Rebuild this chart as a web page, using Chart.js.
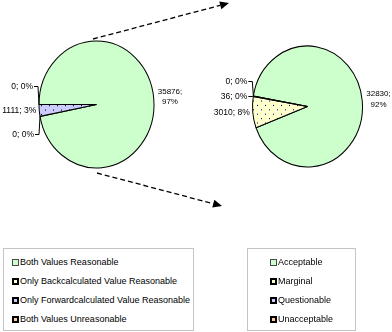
<!DOCTYPE html>
<html>
<head>
<meta charset="utf-8">
<script src="https://cdn.jsdelivr.net/npm/chart.js@4/dist/chart.umd.min.js"></script>
<style>
  body { margin: 0; background: #fff; }
  #wrap { position: relative; width: 392px; height: 332px; overflow: hidden; font-family: Arial, "Liberation Sans", sans-serif; }
  canvas { position: absolute; left: 0; top: 0; }
  .legend { position: absolute; border: 1px solid #c4c4c4; box-sizing: border-box; background: #fff; }
  .legend .row { position: absolute; left: 0; height: 19px; line-height: 19px; font-size: 9px; color: #000; white-space: nowrap; }
  .legend .mark { display: inline-block; box-sizing: border-box; width: 7px; height: 7px; vertical-align: -1px; margin-right: 1px; }
</style>
</head>
<body>
<div id="wrap">
  <canvas id="pieLeft" width="392" height="332"></canvas>
  <canvas id="pieRight" width="392" height="332"></canvas>
  <div class="legend" id="legendLeft" style="left:3px;top:248px;width:191px;height:83px"></div>
  <div class="legend" id="legendRight" style="left:247px;top:248px;width:109px;height:83px"></div>
</div>
<script>
const leftCategories = ['Both Values Reasonable', 'Only Backcalculated Value Reasonable', 'Only Forwardcalculated Value Reasonable', 'Both Values Unreasonable'];
const leftValues = [35876, 0, 1111, 0];

const rightCategories = ['Acceptable', 'Marginal', 'Questionable', 'Unacceptable'];
const rightValues = [32830, 3010, 36, 0];

const sliceColors = ['#CCFFCC', '#FFFFCC', '#CCCCFF', '#FFCC99'];
const dotColors = [null, '#000080', '#000000', '#000000'];

const FONT = 'Arial, "Liberation Sans", sans-serif';

function dotPattern(bg, dot) {
    if (!dot) return bg;
    const c = document.createElement('canvas');
    c.width = 8;
    c.height = 8;
    const g = c.getContext('2d');
    g.fillStyle = bg;
    g.fillRect(0, 0, 8, 8);
    g.fillStyle = dot;
    g.fillRect(1, 1, 1, 1);
    g.fillRect(5, 5, 1, 1);
    return g.createPattern(c, 'repeat');
}

// squash the pie vertically into an ellipse around its centre
const ellipsePlugin = {
    id: 'ellipse',
    beforeDatasetsDraw(chart, args, opts) {
        const arc = chart.getDatasetMeta(0).data[0];
        const ctx = chart.ctx;
        ctx.save();
        ctx.translate(arc.x, arc.y);
        ctx.scale(1, opts.scaleY);
        ctx.translate(-arc.x, -arc.y);
    },
    afterDatasetsDraw(chart) {
        chart.ctx.restore();
    },
};

// "value; pct%" labels, with leader lines for the tiny slices
const sliceLabelPlugin = {
    id: 'sliceLabels',
    afterDraw(chart, args, opts) {
        const ctx = chart.ctx;
        const sy = chart.options.plugins.ellipse.scaleY;
        const values = chart.data.datasets[0].data;
        const total = values.reduce((a, b) => a + b, 0);
        const items = chart.getDatasetMeta(0).data.map((arc, i) => {
            const p = arc.getProps(['x', 'y', 'startAngle', 'endAngle', 'outerRadius'], true);
            const mid = (p.startAngle + p.endAngle) / 2;
            const pct = Math.round(values[i] / total * 100);
            const ax = p.x + p.outerRadius * Math.cos(mid);
            const ay = p.y + p.outerRadius * sy * Math.sin(mid);
            return { value: values[i], pct, ax, ay, ty: ay, left: Math.cos(mid) < 0, leader: pct === 0 };
        });

        // spread the left-hand labels away from the biggest one
        const side = items.filter((it) => it.left).sort((a, b) => a.ay - b.ay);
        if (side.length) {
            let k = 0;
            side.forEach((it, j) => { if (it.value > side[k].value) k = j; });
            for (let j = k - 1; j >= 0; j--) side[j].ty = Math.min(side[j].ay, side[j + 1].ty - opts.gap);
            for (let j = k + 1; j < side.length; j++) side[j].ty = Math.max(side[j].ay, side[j - 1].ty + opts.gap);
        }

        ctx.save();
        ctx.fillStyle = '#000';
        ctx.strokeStyle = '#000';
        ctx.lineWidth = 1;
        ctx.textBaseline = 'middle';
        items.forEach((it) => {
            if (it.left) {
                ctx.font = `${opts.size}px ${FONT}`;
                ctx.textAlign = 'right';
                const right = it.leader ? it.ax - 6 : it.ax - 3;
                ctx.fillText(`${it.value}; ${it.pct}%`, right, it.ty);
                if (it.leader) {
                    ctx.beginPath();
                    ctx.moveTo(right + 1, Math.round(it.ty) + 0.5);
                    ctx.lineTo(it.ax - 1, Math.round(it.ty) + 0.5);
                    ctx.lineTo(it.ax, it.ay);
                    ctx.stroke();
                }
            } else {
                ctx.font = `${opts.size - 0.5}px ${FONT}`;
                const l1 = `${it.value};`;
                const l2 = `${it.pct}%`;
                const w = ctx.measureText(l1).width;
                const x0 = it.ax + 4;
                ctx.textAlign = 'center';
                ctx.fillText(l1, x0 + w / 2, it.ty - 7);
                ctx.fillText(l2, x0 + w / 2, it.ty + 3.5);
            }
        });
        ctx.restore();
    },
};

// dashed arrows fanning out from the left pie toward the right one
const arrowPlugin = {
    id: 'arrows',
    afterDraw(chart, args, opts) {
        const ctx = chart.ctx;
        ctx.save();
        ctx.strokeStyle = '#000';
        ctx.fillStyle = '#000';
        ctx.lineWidth = 1.3;
        opts.lines.forEach(([x1, y1, x2, y2]) => {
            const a = Math.atan2(y2 - y1, x2 - x1);
            const len = 9, half = 4;
            const bx = x2 - len * Math.cos(a), by = y2 - len * Math.sin(a);
            ctx.setLineDash([5, 3]);
            ctx.beginPath();
            ctx.moveTo(x1, y1);
            ctx.lineTo(bx, by);
            ctx.stroke();
            ctx.setLineDash([]);
            ctx.beginPath();
            ctx.moveTo(x2, y2);
            ctx.lineTo(bx + half * Math.sin(a), by - half * Math.cos(a));
            ctx.lineTo(bx - half * Math.sin(a), by + half * Math.cos(a));
            ctx.closePath();
            ctx.fill();
        });
        ctx.restore();
    },
};

function makePie(canvasId, categories, values, cfg) {
    return new Chart(document.getElementById(canvasId), {
        type: 'pie',
        data: {
            labels: categories,
            datasets: [{
                data: values,
                backgroundColor: sliceColors.map((c, i) => dotPattern(c, dotColors[i])),
                borderColor: '#000',
                borderWidth: 1,
                hoverOffset: 0,
            }],
        },
        options: {
            responsive: false,
            animation: false,
            events: [],
            radius: cfg.radius,
            rotation: cfg.rotation,
            layout: { padding: cfg.padding },
            plugins: {
                legend: { display: false },
                tooltip: { enabled: false },
                ellipse: { scaleY: cfg.scaleY },
                sliceLabels: { gap: cfg.gap, size: 8.5 },
                arrows: { lines: cfg.arrows || [] },
            },
        },
        plugins: [ellipsePlugin, sliceLabelPlugin, arrowPlugin],
    });
}

makePie('pieLeft', leftCategories, leftValues, {
    radius: 57.5,
    scaleY: 1.104,
    rotation: 270,
    gap: 24,
    padding: { left: 0, top: 0, right: 199, bottom: 123 },
    arrows: [[93, 39, 229, 3], [97, 173, 222, 206]],
});

makePie('pieRight', rightCategories, rightValues, {
    radius: 55,
    scaleY: 1.1,
    rotation: 280,
    gap: 15,
    padding: { left: 223, top: 0, right: 0, bottom: 119 },
});

function buildLegend(id, categories, markLeft) {
    const box = document.getElementById(id);
    categories.forEach((name, i) => {
        const row = document.createElement('div');
        row.className = 'row';
        row.style.top = (4 + i * 19) + 'px';
        row.style.left = markLeft + 'px';
        const mark = document.createElement('span');
        mark.className = 'mark';
        mark.style.background = sliceColors[i];
        mark.style.border = i === 0 ? '1px solid #4a4a4a' : '2px solid #000';
        row.appendChild(mark);
        row.appendChild(document.createTextNode(name));
        box.appendChild(row);
    });
}

buildLegend('legendLeft', leftCategories, 8);
buildLegend('legendRight', rightCategories, 22);
</script>
</body>
</html>
